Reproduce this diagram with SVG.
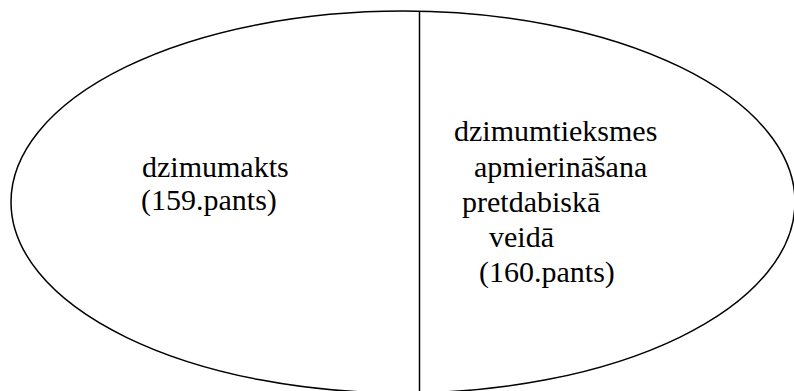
<svg xmlns="http://www.w3.org/2000/svg" width="794" height="391" viewBox="0 0 794 391">
  <style>
    .outline { fill: none; stroke: #000; stroke-width: 1.5; }
    .label { font-size: 30px; fill: #000; }
  </style>
  <rect width="794" height="391" fill="#fff"/>
  <!-- outer oval -->
  <g id="ellipse-node">
    <ellipse class="outline" cx="403" cy="202" rx="392" ry="191"/>
  </g>
  <!-- divider between the two halves -->
  <g id="connectors">
    <line class="outline" x1="419.5" y1="11" x2="419.5" y2="391"/>
  </g>
  <g id="left-node">
    <text class="label" font-family="Liberation Serif" x="142" y="177">dzimumakts</text>
    <text class="label" font-family="Liberation Serif" x="141" y="210">(159.pants)</text>
  </g>
  <g id="right-node">
    <text class="label" font-family="Liberation Serif" x="454" y="141">dzimumtieksmes</text>
    <text class="label" font-family="Liberation Serif" x="474" y="177">apmierināšana</text>
    <text class="label" font-family="Liberation Serif" x="462" y="212">pretdabiskā</text>
    <text class="label" font-family="Liberation Serif" x="489" y="247">veidā</text>
    <text class="label" font-family="Liberation Serif" x="479" y="282">(160.pants)</text>
  </g>
</svg>
